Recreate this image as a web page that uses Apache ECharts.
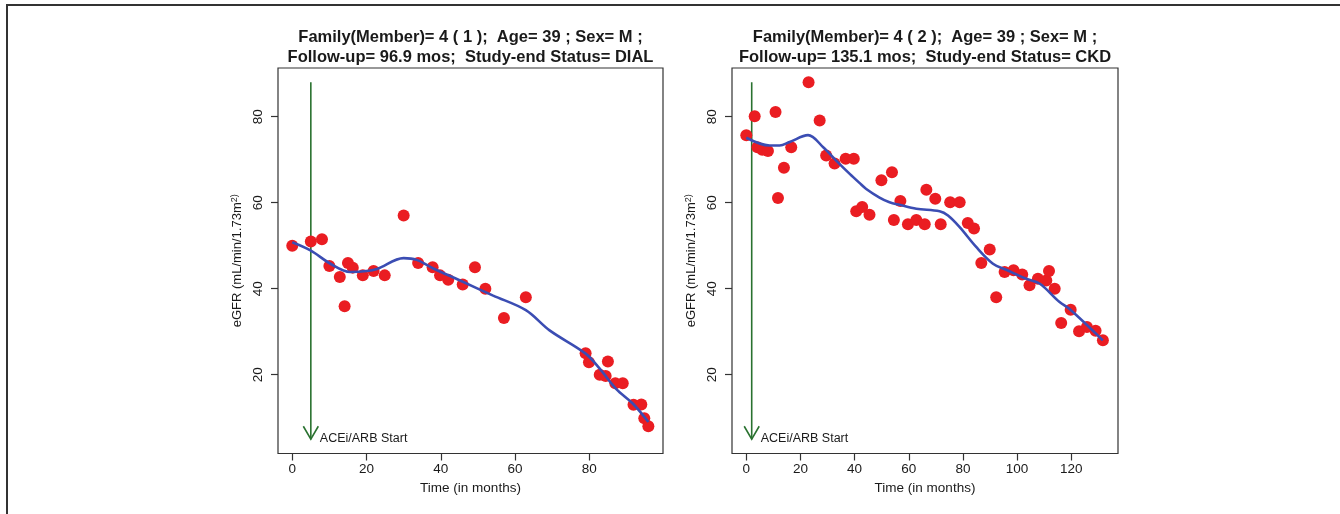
<!DOCTYPE html>
<html>
<head>
<meta charset="utf-8">
<script src="https://cdn.jsdelivr.net/npm/echarts@6/dist/echarts.min.js"></script>
<style>
html,body{margin:0;padding:0;background:#fff;}
#c{width:1340px;height:514px;}
</style>
</head>
<body>
<div id="c"></div>
<script>
// ---- data ----
const titles = [
  'Family(Member)= 4 ( 1 );  Age= 39 ; Sex= M ;\nFollow-up= 96.9 mos;  Study-end Status= DIAL',
  'Family(Member)= 4 ( 2 );  Age= 39 ; Sex= M ;\nFollow-up= 135.1 mos;  Study-end Status= CKD'
];
const xAxisTitle = 'Time (in months)';
const yAxisTitle = 'eGFR (mL/min/1.73m{sup|2)}';
const arrowLabel = 'ACEi/ARB Start';

const leftX = [0,5,8,10,12.8,14.1,15,16.3,19,21.9,24.9,30,33.9,37.8,39.8,42,45.9,49.2,52,57,62.9,79,79.9,82.8,84.4,85,87,89,91.9,94,94.8,95.9];
const leftY = [50,51,51.5,45.3,42.7,35.9,46,44.9,43.1,44.1,43.1,57,46,45,43.1,42.1,41,45,40,33.2,38,25,22.9,20,19.7,23.1,18,18,13,13.1,9.9,8];
const leftFitX = [0,4.9,10.3,15.6,20,22.8,30,33.5,38,45.2,54.1,62.9,69.3,79,82.8,87.2,91.7,95.9];
const leftFitY = [50.8,48.9,45.8,43.9,44.1,44.6,47.1,46.7,44.7,41.9,38.4,35,30.3,24.9,21.4,16.7,13.3,9];
const leftArrow = [5, 88, 5];

const rightX = [0,3.1,4.1,5.9,8,10.8,11.7,13.9,16.6,23,27.1,29.5,32.6,36.7,39.7,40.6,42.8,45.5,49.9,53.8,54.5,56.9,59.7,62.8,65.9,66.5,69.8,71.8,75.3,78.8,81.8,84.1,86.8,89.9,92.3,95.4,98.7,101.9,104.6,107.7,110.8,111.8,113.9,116.3,119.8,122.9,125.8,129,131.7];
const rightY = [75.7,80.1,72.9,72.3,72,81.1,61.1,68.1,72.9,88,79.1,71,69.1,70.2,70.2,58,59,57.2,65.2,67.1,56,60.4,55,56,55,63,60.9,55,60.1,60.1,55.3,54,46,49.1,38,43.9,44.3,43.3,40.8,42.3,41.9,44.1,40,32,35.1,30.1,31.1,30.2,28];
const rightFitX = [0,8.6,12.3,16,22.8,28.4,33.2,38.2,41.8,44.3,49.2,52.9,56.6,62.8,71.4,74.5,78.8,84.9,91.1,96,103.4,108.3,115.7,119.4,131.7];
const rightFitY = [75.1,73.3,73.3,74.1,75.7,72.9,69.8,66.7,64.6,63.2,61.2,60.1,59.5,58.6,58,57,54.3,49.7,45.8,44.4,42.3,41.2,36.9,35.3,28];
const rightArrow = [2, 88, 5];

const leftXTicks = [0,20,40,60,80];
const rightXTicks = [0,20,40,60,80,100,120];
const yTicks = [20,40,60,80];
const leftXRange = [-3.84, 99.84];
const rightXRange = [-5.28, 137.28];
const yRange = [1.68, 91.32];

// ---- chart ----
const RED = '#EA1D22', BLUE = '#3B4DB3', GREEN = '#2A7230', INK = '#1a1a1a';
const FONT = '"Liberation Sans", Arial, sans-serif';
const zip = (a, b) => a.map((v, i) => [v, b[i]]);

function arrowRender(params, api) {
  const x = api.value(0), ya = api.value(1), yb = api.value(2);
  const p1 = api.coord([x, ya]), p2 = api.coord([x, yb]);
  const hl = 15, ang = Math.PI / 6;
  const dx = hl * Math.sin(ang), dy = hl * Math.cos(ang);
  return {
    type: 'group',
    children: [
      { type: 'line', shape: { x1: p1[0], y1: p1[1], x2: p2[0], y2: p2[1] }, style: { stroke: GREEN, lineWidth: 1.6 } },
      { type: 'polyline', shape: { points: [[p2[0] - dx, p2[1] - dy], [p2[0], p2[1]], [p2[0] + dx, p2[1] - dy]] }, style: { stroke: GREEN, fill: null, lineWidth: 1.6 } },
      { type: 'text', x: p2[0] + 9, y: p2[1] - 1, style: { text: arrowLabel, fill: INK, font: '12.5px ' + FONT, textAlign: 'left', textVerticalAlign: 'middle' } }
    ]
  };
}

const grids = [
  { left: 278, top: 68, width: 385, height: 385.5, show: true, borderColor: '#333', borderWidth: 1.2, backgroundColor: 'transparent' },
  { left: 732, top: 68, width: 386, height: 385.5, show: true, borderColor: '#333', borderWidth: 1.2, backgroundColor: 'transparent' }
];

function xAxisCfg(idx, range, ticks) {
  return {
    gridIndex: idx, type: 'value', min: range[0], max: range[1], position: 'bottom',
    splitLine: { show: false },
    axisLine: { show: false, onZero: false },
    axisTick: { show: true, inside: false, length: 7, lineStyle: { color: '#333', width: 1.2 }, customValues: ticks },
    axisLabel: { customValues: ticks, color: INK, fontSize: 13.5, fontFamily: FONT, margin: 9 },
    name: xAxisTitle, nameLocation: 'middle', nameGap: 27,
    nameTextStyle: { color: INK, fontSize: 13.5, fontFamily: FONT }
  };
}
function yAxisCfg(idx) {
  return {
    gridIndex: idx, type: 'value', min: yRange[0], max: yRange[1], position: 'left',
    splitLine: { show: false },
    axisLine: { show: false, onZero: false },
    axisTick: { show: true, inside: false, length: 7, lineStyle: { color: '#333', width: 1.2 }, customValues: yTicks },
    axisLabel: { customValues: yTicks, rotate: 90, color: INK, fontSize: 13.5, fontFamily: FONT, margin: 13 },
    name: yAxisTitle, nameLocation: 'middle', nameRotate: 90, nameGap: 33,
    nameTextStyle: {
      color: INK, fontSize: 13, fontFamily: FONT,
      rich: { sup: { fontSize: 9, color: INK, verticalAlign: 'top', padding: [0, 0, 6, 0], fontFamily: FONT } }
    }
  };
}

const option = {
  animation: false,
  backgroundColor: '#fff',
  title: [
    { text: titles[0], left: 470.5, top: 27, textAlign: 'center', padding: 0,
      textStyle: { color: INK, fontSize: 16.5, fontWeight: 'bold', lineHeight: 20, fontFamily: FONT } },
    { text: titles[1], left: 925, top: 27, textAlign: 'center', padding: 0,
      textStyle: { color: INK, fontSize: 16.5, fontWeight: 'bold', lineHeight: 20, fontFamily: FONT } }
  ],
  grid: grids,
  xAxis: [xAxisCfg(0, leftXRange, leftXTicks), xAxisCfg(1, rightXRange, rightXTicks)],
  yAxis: [yAxisCfg(0), yAxisCfg(1)],
  graphic: [
    { type: 'line', shape: { x1: 6, y1: 5, x2: 1340, y2: 5 }, style: { stroke: '#333', lineWidth: 2 } },
    { type: 'line', shape: { x1: 7, y1: 5, x2: 7, y2: 514 }, style: { stroke: '#333', lineWidth: 2 } }
  ],
  series: [
    { type: 'custom', xAxisIndex: 0, yAxisIndex: 0, renderItem: arrowRender, data: [leftArrow], silent: true, z: 1 },
    { type: 'scatter', xAxisIndex: 0, yAxisIndex: 0, data: zip(leftX, leftY), symbolSize: 12, itemStyle: { color: RED, opacity: 1 }, z: 2 },
    { type: 'line', xAxisIndex: 0, yAxisIndex: 0, data: zip(leftFitX, leftFitY), smooth: 0.35, showSymbol: false, lineStyle: { color: BLUE, width: 2.6 }, z: 3 },
    { type: 'custom', xAxisIndex: 1, yAxisIndex: 1, renderItem: arrowRender, data: [rightArrow], silent: true, z: 1 },
    { type: 'scatter', xAxisIndex: 1, yAxisIndex: 1, data: zip(rightX, rightY), symbolSize: 12, itemStyle: { color: RED, opacity: 1 }, z: 2 },
    { type: 'line', xAxisIndex: 1, yAxisIndex: 1, data: zip(rightFitX, rightFitY), smooth: 0.35, showSymbol: false, lineStyle: { color: BLUE, width: 2.6 }, z: 3 }
  ]
};

const chart = echarts.init(document.getElementById('c'), null, { renderer: 'canvas' });
chart.setOption(option);
</script>
</body>
</html>
